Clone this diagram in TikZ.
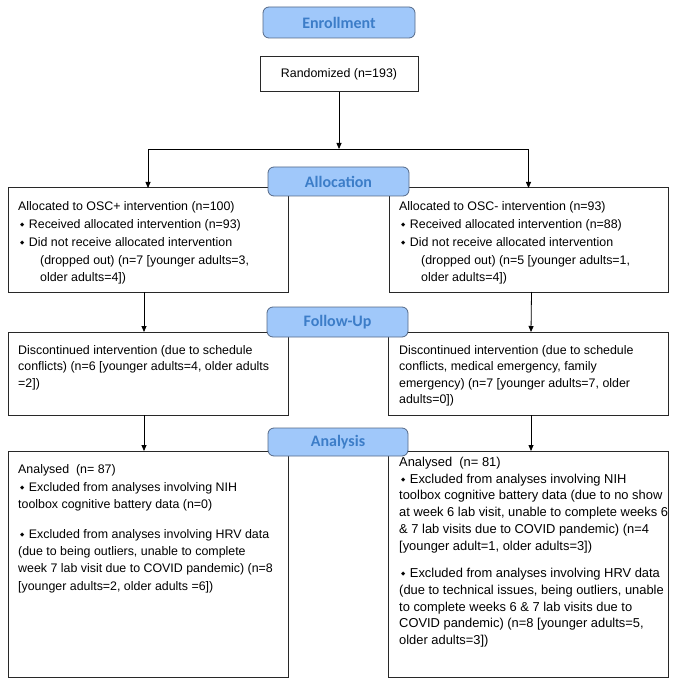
\documentclass[tikz,border=0pt]{standalone}
\usepackage{fontspec}
\setmainfont{Liberation Sans}
\newfontfamily\labfont{Carlito}
\newfontfamily\symfont{DejaVu Sans}
\usetikzlibrary{arrows.meta}
\definecolor{labfill}{RGB}{160,200,250}
\definecolor{labdraw}{RGB}{85,105,135}
\definecolor{labtext}{RGB}{60,125,200}
\definecolor{boxline}{RGB}{40,40,40}
\newcommand\bul{\hspace*{2pt}\raisebox{1.6pt}{\symfont\fontsize{5.5}{5.5}\selectfont ◆}\hspace{4.5pt}}
\newcommand\ind{\hspace*{22pt}}
\begin{document}
\begin{tikzpicture}[x=1pt,y=-1pt,
  box/.style={draw=boxline, line width=1pt, inner sep=0pt, outer sep=0pt, fill=white},
  stage/.style={draw=labdraw, fill=labfill, rounded corners=6pt, line width=0.8pt,
    font=\labfont\bfseries\fontsize{16}{16}\selectfont, text=labtext, inner sep=0pt},
  txt/.style={anchor=north west, inner sep=0pt, align=left},
  arr/.style={-{Triangle[length=6pt,width=5pt]}, line width=0.8pt, draw=black}]
\useasboundingbox (0,0) rectangle (676,684);
\fill[white] (0,0) rectangle (676,684);

% boxes
\node[box, minimum width=158pt, minimum height=35pt, font=\fontsize{12.4}{15}\selectfont] (rand) at (339,74.5) {Randomized (n=193)};
\coordinate (split) at (339,149);
\node[box, minimum width=280pt, minimum height=104pt] (allocL) at (148,240) {};
\node[box, minimum width=279pt, minimum height=104pt] (allocR) at (528.5,240) {};
\node[box, minimum width=280pt, minimum height=83pt] (fuL) at (148,373.5) {};
\node[box, minimum width=280pt, minimum height=83pt] (fuR) at (528,373.5) {};
\node[box, minimum width=280pt, minimum height=226pt] (anL) at (148,564) {};
\node[box, minimum width=280pt, minimum height=226pt] (anR) at (528,564) {};

% connectors
\draw[arr] (rand.south) -- (split);
\draw[arr] (split) -| (allocL.north);
\draw[arr] (split) -| (allocR.north);
\draw[arr] ([xshift=-4pt]allocL.south) -- ([xshift=-4pt]fuL.north);
\draw[arr] ([xshift=3pt]allocR.south) -- ([xshift=3pt]fuR.north);
\draw[arr] ([xshift=-4pt]fuL.south) -- ([xshift=-4pt]anL.north);
\draw[arr] ([xshift=3pt]fuR.south) -- ([xshift=3pt]anR.north);

% texts
\node[txt, font=\fontsize{12.4}{17.8}\selectfont] (tallocL) at (18,200.5) {\rule{0pt}{10pt}Allocated to OSC+ intervention (n=100)\\
\bul Received allocated intervention (n=93)\\
\bul Did not receive allocated intervention\\
\ind(dropped out) (n=7 {[}younger adults=3,\\
\ind older adults=4])};
\node[txt, font=\fontsize{12.4}{17.8}\selectfont] (tallocR) at (399,200.5) {\rule{0pt}{10pt}Allocated to OSC- intervention (n=93)\\
\bul Received allocated intervention (n=88)\\
\bul Did not receive allocated intervention\\
\ind(dropped out) (n=5 {[}younger adults=1,\\
\ind older adults=4])};
\node[txt, font=\fontsize{12.4}{16.2}\selectfont] (tfuL) at (18,344.5) {\rule{0pt}{10pt}Discontinued intervention (due to schedule\\
conflicts) (n=6 {[}younger adults=4, older adults\\
=2])};
\node[txt, font=\fontsize{12.4}{16.2}\selectfont] (tfuR) at (399,344.5) {\rule{0pt}{10pt}Discontinued intervention (due to schedule\\
conflicts, medical emergency, family\\
emergency) (n=7 {[}younger adults=7, older\\
adults=0])};
\node[txt, font=\fontsize{12.4}{17.3}\selectfont] (tanL) at (18,463.5) {\rule{0pt}{10pt}Analysed\ \ (n= 87)\\
\bul Excluded from analyses involving NIH\\
toolbox cognitive battery data (n=0)\\[12.7pt]
\bul Excluded from analyses involving HRV data\\
(due to being outliers, unable to complete\\
week 7 lab visit due to COVID pandemic) (n=8\\
{[}younger adults=2, older adults =6])};
\node[txt, font=\fontsize{12.9}{16.8}\selectfont] (tanR) at (399,456) {\rule{0pt}{10pt}Analysed\ \ (n= 81)\\
\bul Excluded from analyses involving NIH\\
toolbox cognitive battery data (due to no show\\
at week 6 lab visit, unable to complete weeks 6\\
\& 7 lab visits due to COVID pandemic) (n=4\\
{[}younger adult=1, older adults=3])\\[10.5pt]
\bul Excluded from analyses involving HRV data\\
(due to technical issues, being outliers, unable\\
to complete weeks 6 \& 7 lab visits due to\\
COVID pandemic) (n=8 {[}younger adults=5,\\
older adults=3])};

% stage labels
\node[stage, minimum width=152pt, minimum height=31pt] (enroll) at (339,22.5) {Enrollment};
\node[stage, minimum width=141pt, minimum height=29pt] (alloc) at (338.5,181.5) {Allocation};
\node[stage, minimum width=141pt, minimum height=30pt] (fu) at (337.5,322) {Follow-Up};
\node[stage, minimum width=140pt, minimum height=28pt] (an) at (338,442) {Analysis};
\end{tikzpicture}
\end{document}
